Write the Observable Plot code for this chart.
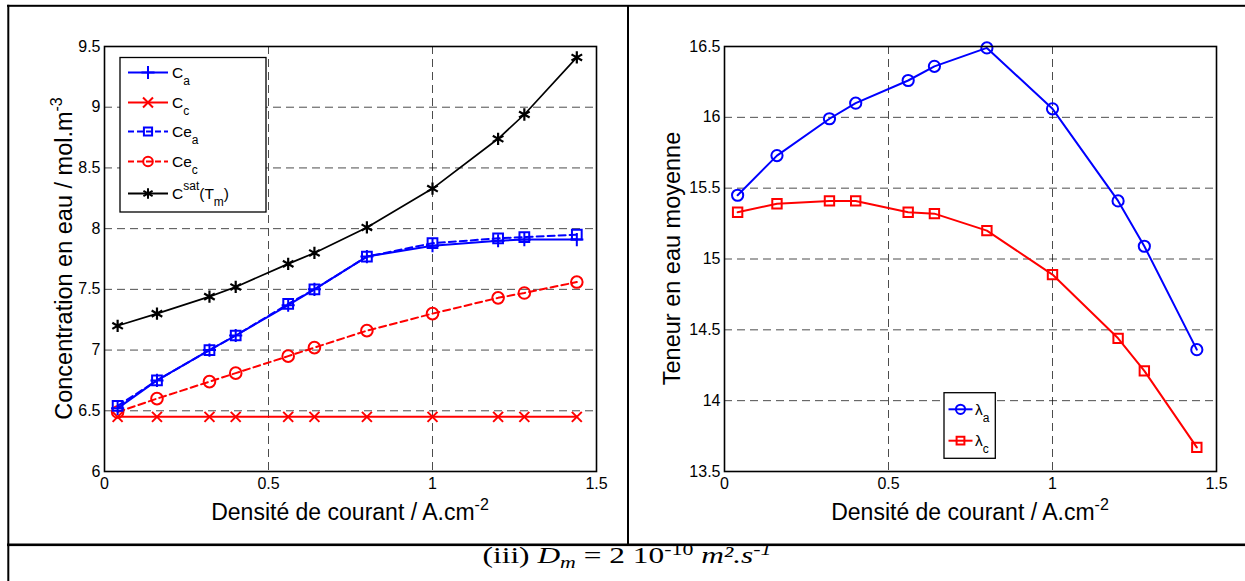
<!DOCTYPE html>
<html>
<head>
<meta charset="utf-8">
<script src="https://cdn.jsdelivr.net/npm/d3@7"></script>
<script src="https://cdn.jsdelivr.net/npm/@observablehq/plot@0.6"></script>
<style>
  body { margin: 0; background: white; }
  #wrap { position: relative; width: 1245px; height: 581px; overflow: hidden; background: white; }
  #left, #right { position: absolute; top: 0; }
  #left { left: 0; }
  #right { left: 620px; }
  #deco { position: absolute; left: 0; top: 0; pointer-events: none; }
</style>
</head>
<body>
<div id="wrap">
  <div id="left"></div>
  <div id="right"></div>
  <svg id="deco" width="1245" height="581"></svg>
</div>
<script>
// ---------------- data ----------------
const density = [0.04, 0.16, 0.32, 0.40, 0.56, 0.64, 0.80, 1.00, 1.20, 1.28, 1.44];
const Ca   = [6.52, 6.75, 7.00, 7.12, 7.37, 7.50, 7.77, 7.86, 7.90, 7.91, 7.91];
const Cc   = [6.45, 6.45, 6.45, 6.45, 6.45, 6.45, 6.45, 6.45, 6.45, 6.45, 6.45];
const Cea  = [6.54, 6.75, 7.00, 7.12, 7.38, 7.50, 7.77, 7.88, 7.92, 7.93, 7.95];
const Cec  = [6.49, 6.60, 6.74, 6.81, 6.95, 7.02, 7.16, 7.30, 7.43, 7.47, 7.56];
const Csat = [7.20, 7.30, 7.44, 7.52, 7.71, 7.80, 8.01, 8.33, 8.74, 8.94, 9.41];
const lambdaA = [15.45, 15.73, 15.99, 16.10, 16.26, 16.36, 16.49, 16.06, 15.41, 15.09, 14.36];
const lambdaC = [15.33, 15.39, 15.41, 15.41, 15.33, 15.32, 15.20, 14.89, 14.44, 14.21, 13.67];

const xTicks = [0, 0.5, 1, 1.5];
const yTicksLeft = [6, 6.5, 7, 7.5, 8, 8.5, 9, 9.5];
const yTicksRight = [13.5, 14, 14.5, 15, 15.5, 16, 16.5];

const xLabel = "Densité de courant / A.cm";
const xLabelSup = "-2";
const yLabelLeft = "Concentration en eau / mol.m";
const yLabelLeftSup = "-3";
const yLabelRight = "Teneur en eau moyenne";

// ---------------- helpers ----------------
const BLUE = "#0000ff", RED = "#ff0000", BLACK = "#000000";
const FONT = "'Liberation Sans', Arial, Helvetica, sans-serif";
const rows = ys => density.map((x, i) => ({x, y: ys[i]}));
const fmt = d => String(d);
const inner = arr => arr.slice(1, -1);
const gridStyle = {stroke: "#000", strokeOpacity: 0.7, strokeWidth: 1, strokeDasharray: "8,5"};

function baseOptions(yTicks) {
  return {
    width: 620, height: 545,
    marginLeft: 104, marginRight: 24, marginTop: 46, marginBottom: 74,
    style: {background: "transparent", fontFamily: FONT, fontSize: "16px", color: "black", overflow: "visible"},
    x: {domain: [0, 1.5], ticks: xTicks, tickFormat: fmt, tickSize: 0, tickPadding: 6, label: null},
    y: {domain: [yTicks[0], yTicks[yTicks.length - 1]], ticks: yTicks, tickFormat: fmt, tickSize: 0, tickPadding: 4, label: null}
  };
}

function addText(sel, parts) {
  parts.forEach(p => {
    const t = sel.append("tspan").text(p.t);
    if (p.dy) t.attr("dy", p.dy);
    if (p.size) t.attr("font-size", p.size);
    if (p.italic) t.attr("font-style", "italic");
  });
}

function addLabels(svg, yLabelX, yParts) {
  const s = d3.select(svg);
  const x0 = 104, x1 = 596, yc = (46 + 471) / 2;
  const tx = s.append("text").attr("x", (x0 + x1) / 2).attr("y", 520)
    .attr("text-anchor", "middle").attr("font-size", 23).attr("font-family", FONT).attr("fill", "black");
  addText(tx, [{t: xLabel}, {t: xLabelSup, dy: -10, size: 16}]);
  const ty = s.append("text").attr("transform", `translate(${yLabelX},${yc}) rotate(-90)`)
    .attr("text-anchor", "middle").attr("font-size", 23.5).attr("font-family", FONT).attr("fill", "black");
  addText(ty, yParts);
}

function addLegend(svg, box, entries) {
  const g = d3.select(svg).append("g").attr("font-family", FONT).attr("text-anchor", "start");
  g.append("rect").attr("x", box.x).attr("y", box.y).attr("width", box.w).attr("height", box.h)
    .attr("fill", "white").attr("stroke", "black").attr("stroke-width", 1.3);
  entries.forEach(e => {
    g.append("line").attr("x1", box.lx1).attr("x2", box.lx2).attr("y1", e.y).attr("y2", e.y)
      .attr("stroke", e.color).attr("stroke-width", 2).attr("stroke-dasharray", e.dash || null);
    g.append("path").attr("transform", `translate(${(box.lx1 + box.lx2) / 2},${e.y})`)
      .attr("d", d3.symbol(e.symbol, Math.PI * e.r * e.r)())
      .attr("fill", "none").attr("stroke", e.color).attr("stroke-width", 2);
    const t = g.append("text").attr("x", box.tx).attr("y", e.y + 5.5)
      .attr("text-anchor", "start").attr("font-size", 15.5).attr("fill", "black");
    addText(t, e.parts);
  });
}

// ---------------- left chart ----------------
const left = Plot.plot({
  ...baseOptions(yTicksLeft),
  marks: [
    Plot.ruleX(inner(xTicks), gridStyle),
    Plot.ruleY(inner(yTicksLeft), gridStyle),
    Plot.line(rows(Cc), {x: "x", y: "y", stroke: RED, strokeWidth: 2}),
    Plot.dot(rows(Cc), {x: "x", y: "y", symbol: "times", r: 4.6, stroke: RED, strokeWidth: 2, fill: "none"}),
    Plot.line(rows(Cec), {x: "x", y: "y", stroke: RED, strokeWidth: 2, strokeDasharray: "7,4"}),
    Plot.dot(rows(Cec), {x: "x", y: "y", symbol: "circle", r: 5.8, stroke: RED, strokeWidth: 2, fill: "none"}),
    Plot.line(rows(Cea), {x: "x", y: "y", stroke: BLUE, strokeWidth: 2, strokeDasharray: "7,4"}),
    Plot.dot(rows(Cea), {x: "x", y: "y", symbol: "square", r: 5.5, stroke: BLUE, strokeWidth: 2, fill: "none"}),
    Plot.line(rows(Ca), {x: "x", y: "y", stroke: BLUE, strokeWidth: 2}),
    Plot.dot(rows(Ca), {x: "x", y: "y", symbol: "plus", r: 4.3, stroke: BLUE, strokeWidth: 2, fill: "none"}),
    Plot.line(rows(Csat), {x: "x", y: "y", stroke: BLACK, strokeWidth: 1.7}),
    Plot.dot(rows(Csat), {x: "x", y: "y", symbol: "asterisk", r: 5.8, stroke: BLACK, strokeWidth: 2.2, fill: "none"}),
    Plot.frame({stroke: "black", strokeWidth: 1.6})
  ]
});
addLabels(left, 72, [{t: yLabelLeft}, {t: yLabelLeftSup, dy: -10, size: 16}]);
addLegend(left, {x: 120, y: 57.5, w: 146, h: 154.5, lx1: 128, lx2: 168, tx: 172}, [
  {y: 72.5, color: BLUE, symbol: d3.symbolPlus, r: 4.3, parts: [{t: "C"}, {t: "a", dy: 7, size: 12}]},
  {y: 102.5, color: RED, symbol: d3.symbolTimes, r: 4.6, parts: [{t: "C"}, {t: "c", dy: 7, size: 12}]},
  {y: 131.5, color: BLUE, dash: "6,3", symbol: d3.symbolSquare, r: 4.6, parts: [{t: "Ce"}, {t: "a", dy: 7, size: 12}]},
  {y: 161.5, color: RED, dash: "6,3", symbol: d3.symbolCircle, r: 4.8, parts: [{t: "Ce"}, {t: "c", dy: 7, size: 12}]},
  {y: 193.5, color: BLACK, symbol: d3.symbolAsterisk, r: 5, parts: [{t: "C"}, {t: "sat", dy: -9, size: 12}, {t: "(T", dy: 9}, {t: "m", dy: 7, size: 12}, {t: ")", dy: -7}]}
]);
document.getElementById("left").appendChild(left);

// ---------------- right chart ----------------
const right = Plot.plot({
  ...baseOptions(yTicksRight),
  marks: [
    Plot.ruleX(inner(xTicks), gridStyle),
    Plot.ruleY(inner(yTicksRight), gridStyle),
    Plot.line(rows(lambdaC), {x: "x", y: "y", stroke: RED, strokeWidth: 2}),
    Plot.dot(rows(lambdaC), {x: "x", y: "y", symbol: "square", r: 5.3, stroke: RED, strokeWidth: 2, fill: "none"}),
    Plot.line(rows(lambdaA), {x: "x", y: "y", stroke: BLUE, strokeWidth: 2}),
    Plot.dot(rows(lambdaA), {x: "x", y: "y", symbol: "circle", r: 5.6, stroke: BLUE, strokeWidth: 2, fill: "none"}),
    Plot.frame({stroke: "black", strokeWidth: 1.6})
  ]
});
addLabels(right, 60, [{t: yLabelRight}]);
addLegend(right, {x: 324, y: 392.7, w: 51.3, h: 65.6, lx1: 328.5, lx2: 352.5, tx: 355}, [
  {y: 409.3, color: BLUE, symbol: d3.symbolCircle, r: 4.6, parts: [{t: "λ"}, {t: "a", dy: 7, size: 12}]},
  {y: 440.7, color: RED, symbol: d3.symbolSquare, r: 4.4, parts: [{t: "λ"}, {t: "c", dy: 7, size: 12}]}
]);
document.getElementById("right").appendChild(right);

// ---------------- table borders & caption ----------------
const deco = d3.select("#deco");
deco.append("rect").attr("x", 7).attr("y", 4.8).attr("width", 1238).attr("height", 2).attr("fill", "black");
deco.append("rect").attr("x", 7.3).attr("y", 4.8).attr("width", 2).attr("height", 577).attr("fill", "black");
deco.append("rect").attr("x", 627).attr("y", 5).attr("width", 2).attr("height", 540).attr("fill", "black");
deco.append("rect").attr("x", 7).attr("y", 543.5).attr("width", 1238).attr("height", 2.6).attr("fill", "black");
const cap = deco.append("text").attr("x", 482.5).attr("y", 562.5)
  .attr("font-family", "'Liberation Serif', 'Times New Roman', serif").attr("font-size", 23).attr("fill", "black")
  .attr("text-anchor", "start").attr("textLength", 289).attr("lengthAdjust", "spacingAndGlyphs");
addText(cap, [
  {t: "(iii) "}, {t: "D", italic: true}, {t: "m", italic: true, dy: 5, size: 16},
  {t: " = 2 10", dy: -5}, {t: "-10", dy: -8, size: 16}, {t: " "},
  {t: "m².s", italic: true, dy: 8}, {t: "-1", italic: true, dy: -8, size: 16}
]);
</script>
</body>
</html>
